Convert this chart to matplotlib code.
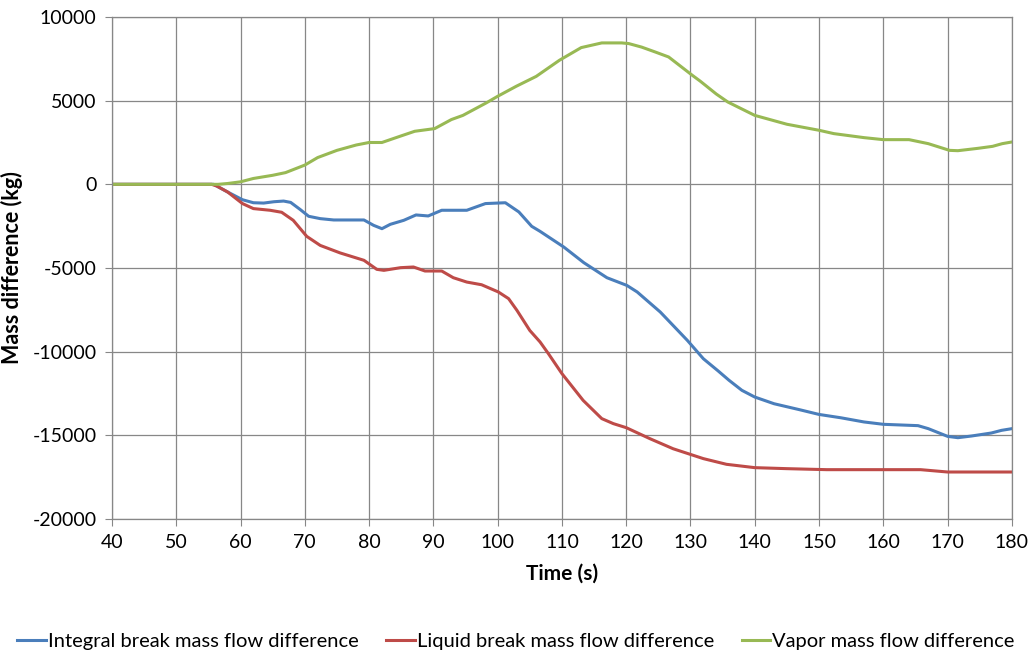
import matplotlib
matplotlib.use('Agg')
import matplotlib.pyplot as plt

plt.rcParams['font.family'] = ['Lato', 'DejaVu Sans']
plt.rcParams['axes.unicode_minus'] = False

# Integral break mass flow difference
t_integral = [40, 55.8, 58, 60.3, 62, 63.6, 65.2, 66.7, 67.8, 69.3, 70.6, 72.4, 74.5, 79.2,
              80.7, 82, 83.3, 85.4, 87.3, 89.2, 91.3, 95.2, 98.1, 101.2, 103.3, 105.3, 106.6,
              110.3, 113.4, 117, 120.1, 121.7, 125.3, 129.5, 132, 134.3, 136, 138, 140, 143,
              147, 150, 153.4, 157, 160, 165.4, 167, 170, 171.6, 173.7, 176.8, 178.4, 180]
v_integral = [0, 0, -460, -920, -1100, -1120, -1040, -1000, -1080, -1510, -1910, -2050, -2130,
              -2130, -2450, -2650, -2390, -2150, -1830, -1890, -1550, -1550, -1150, -1100,
              -1650, -2510, -2810, -3750, -4680, -5580, -6040, -6430, -7630, -9320, -10420,
              -11150, -11710, -12310, -12710, -13110, -13470, -13750, -13950, -14200, -14340,
              -14420, -14600, -15060, -15140, -15040, -14860, -14700, -14600]

# Liquid break mass flow difference
t_liquid = [40, 55.5, 56.3, 58, 60.3, 62, 64.6, 66.4, 68.2, 70.3, 72.4, 75.5, 79.2, 81.2, 82.3,
            84.9, 86.9, 88.7, 91.3, 93.1, 95.2, 97.5, 100.1, 101.7, 103, 105, 106.6, 107.9,
            110, 113.3, 116.2, 118, 120, 123.7, 127.3, 132, 135.6, 140, 145, 151.2, 165.8,
            170, 180]
v_liquid = [0, 0, -100, -460, -1150, -1450, -1550, -1670, -2150, -3110, -3650, -4100, -4540,
            -5080, -5140, -4980, -4940, -5180, -5180, -5580, -5840, -6000, -6430, -6830, -7530,
            -8730, -9420, -10120, -11310, -12910, -14000, -14300, -14540, -15200, -15800,
            -16390, -16730, -16930, -16990, -17050, -17050, -17190, -17190]

# Vapor mass flow difference
t_vapor = [40, 55, 56.5, 58, 60, 62, 65, 67, 70, 72, 75, 78, 80, 82, 84.8, 87.1, 90.2, 92.8,
           94.6, 98.2, 100, 102.9, 106, 109.6, 113, 116.2, 119.3, 120.4, 122.4, 124.5, 126.6,
           130.3, 131.5, 134, 135.8, 140, 145, 150, 152.3, 157, 160, 164, 167, 170.3, 171.6,
           174.7, 177, 178.5, 180]
v_vapor = [0, 0, 0, 50, 150, 350, 540, 700, 1150, 1600, 2030, 2350, 2500, 2500, 2870, 3170,
           3330, 3870, 4120, 4860, 5260, 5860, 6450, 7410, 8170, 8450, 8450, 8410, 8200, 7910,
           7610, 6510, 6170, 5400, 4920, 4120, 3590, 3230, 3030, 2790, 2670, 2670, 2430, 2030,
           2010, 2150, 2270, 2430, 2530]

fig = plt.figure(figsize=(10.32, 6.58), dpi=100)
ax = fig.add_axes([0.1085, 0.2112, 0.872, 0.7630])

grid_c = '#878787'
ax.plot(t_integral, v_integral, color='#4a7ebb', lw=2.2, label='Integral break mass flow difference')
ax.plot(t_liquid, v_liquid, color='#be4b48', lw=2.2, label='Liquid break mass flow difference')
ax.plot(t_vapor, v_vapor, color='#98b954', lw=2.2, label='Vapor mass flow difference')

ax.set_xlim(40, 180)
ax.set_ylim(-20000, 10000)
ax.set_xticks(range(40, 181, 10))
ax.set_yticks(range(-20000, 10001, 5000))
ax.grid(True, color=grid_c, lw=0.9)
ax.set_axisbelow(True)
for s in ax.spines.values():
    s.set_color(grid_c)
    s.set_linewidth(0.9)
ax.tick_params(axis='both', direction='out', length=5, color=grid_c, labelsize=14, pad=6)

ax.set_xlabel('Time (s)', fontsize=15, fontweight='bold', labelpad=9)
ax.set_ylabel('Mass difference (kg)', fontsize=15.5, fontweight='bold', labelpad=7)

fig.legend(loc='center', bbox_to_anchor=(0.5, 0.025), ncol=3, frameon=False, fontsize=14.5,
           handlelength=1.4, handletextpad=0.1, columnspacing=1.4)

plt.savefig('out.png', dpi=100)
